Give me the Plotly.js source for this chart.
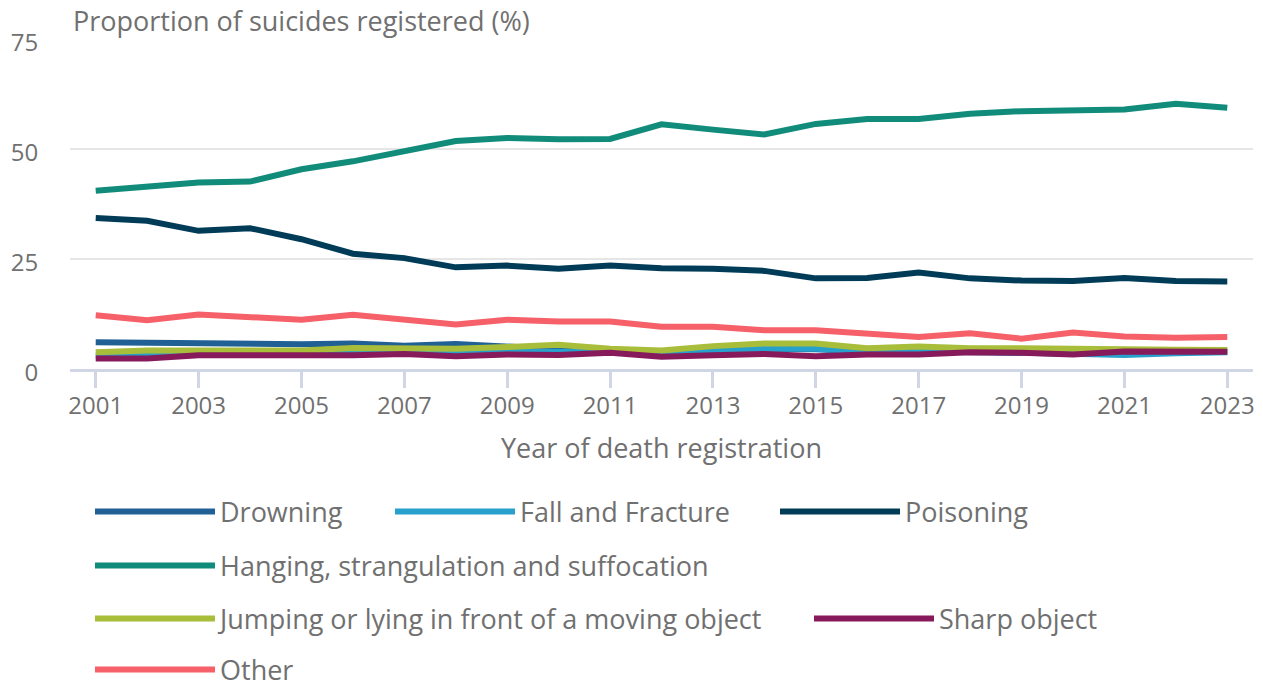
<!DOCTYPE html>
<html>
<head>
<meta charset="utf-8">
<script src="https://cdn.plot.ly/plotly-3.0.1.min.js"></script>
<style>
html,body{margin:0;padding:0;background:#fff;}
#chart{width:1263px;height:686px;}
</style>
</head>
<body>
<div id="chart"></div>
<script>
const years = [2001,2002,2003,2004,2005,2006,2007,2008,2009,2010,2011,2012,2013,2014,2015,2016,2017,2018,2019,2020,2021,2022,2023];
const drowning = [6.1,6.0,5.9,5.5,5.6,5.8,5.3,5.7,5.0,4.5,4.4,4.0,4.2,4.6,4.5,4.0,4.0,3.9,3.8,3.5,3.9,3.8,3.9];
const fallFracture = [3.0,3.0,3.4,3.5,3.5,3.6,3.8,3.8,3.9,4.1,4.0,3.7,4.1,4.6,4.6,4.0,4.2,4.0,3.8,3.6,3.2,3.6,3.8];
const poisoning = [34.3,33.7,31.4,32.0,29.5,26.2,25.2,23.1,23.5,22.8,23.5,22.9,22.8,22.3,20.6,20.7,21.9,20.6,20.1,20.0,20.7,20.0,19.9];
const hanging = [40.5,41.4,42.4,42.6,45.4,47.2,49.4,51.8,52.5,52.2,52.3,55.6,54.4,53.3,55.7,56.8,56.8,58.0,58.6,58.7,59.0,60.3,59.4];
const jumping = [3.8,4.2,4.2,4.2,4.2,4.8,4.8,4.6,5.0,5.5,4.6,4.2,5.2,5.8,5.8,4.7,5.1,4.7,4.7,4.5,4.5,4.4,4.3];
const sharp = [2.4,2.4,3.1,3.1,3.0,3.1,3.4,2.9,3.3,3.2,3.7,2.8,3.1,3.4,2.9,3.3,3.3,3.8,3.7,3.3,4.0,3.8,3.9];
const other = [12.2,11.1,12.4,11.7,11.2,12.3,11.2,10.1,11.2,10.8,10.8,9.6,9.6,8.8,8.8,8.1,7.3,8.1,6.9,8.3,7.4,7.1,7.3];

const seriesNames = ["Drowning","Fall and Fracture","Poisoning","Hanging, strangulation and suffocation","Jumping or lying in front of a moving object","Sharp object","Other"];
const seriesData = [drowning, fallFracture, poisoning, hanging, jumping, sharp, other];
const seriesColors = ["#206095","#27a0cc","#003c57","#118c7b","#a8bd3a","#871a5b","#f66068"];
const legendIds = ["legend","legend2","legend3","legend4","legend5","legend6","legend7"];

const traces = seriesNames.map((n,i)=>({
  x: years, y: seriesData[i], name: n, type:'scatter', mode:'lines',
  line:{color:seriesColors[i], width:6},
  legend: legendIds[i],
  hoverinfo:'skip'
}));

const textColor = '#707070';
// legend placement (paper coords): plot area 70..1253 px wide, 39..369 px tall
const plotL = 70, plotW = 1183, plotB = 369, plotH = 330;
const legX = px => (px - plotL) / plotW;
const legY = py => (plotB - py) / plotH;
const legendPos = [[90,512],[390,512],[775,512],[90,566],[90,619],[809,619],[90,670]];

const layout = {
  width:1263, height:686,
  margin:{l:70, r:10, t:39, b:317, autoexpand:false},
  paper_bgcolor:'#fff', plot_bgcolor:'#fff',
  font:{family:'"Open Sans", sans-serif', color:textColor, size:24},
  showlegend:true,
  xaxis:{
    range:[2000.5,2023.5], tickvals:[2001,2003,2005,2007,2009,2011,2013,2015,2017,2019,2021,2023],
    ticks:'outside', ticklen:16, tickwidth:3, tickcolor:'#d0d6e6', ticklabelstandoff:-3,
    showgrid:false, zeroline:false, showline:true, linecolor:'#d0d6e6', linewidth:3,
    tickfont:{size:24, color:textColor},
    title:{text:'Year of death registration', font:{size:27, color:textColor}, standoff:20},
    fixedrange:true
  },
  yaxis:{
    range:[0,75], tickvals:[0,25,50,75], showgrid:true, gridcolor:'#e6e6e6', gridwidth:2,
    zeroline:false, showline:false, ticks:'outside', ticklen:26, tickcolor:'rgba(0,0,0,0)',
    ticklabelshift:4,
    tickfont:{size:24, color:textColor}, fixedrange:true
  },
  annotations:[{
    text:'Proportion of suicides registered (%)', xref:'paper', yref:'paper',
    x:0, y:1, xanchor:'left', yanchor:'bottom', xshift:1, yshift:-2, showarrow:false,
    font:{size:27, color:textColor}
  }]
};
legendIds.forEach((id,i)=>{
  layout[id] = {
    orientation:'h', x:legX(legendPos[i][0]), xanchor:'left',
    y:legY(legendPos[i][1]), yanchor:'middle',
    itemwidth:120, font:{size:27, color:textColor}, bgcolor:'rgba(0,0,0,0)'
  };
});
Plotly.newPlot('chart', traces, layout, {displayModeBar:false, staticPlot:true});
</script>
</body>
</html>
